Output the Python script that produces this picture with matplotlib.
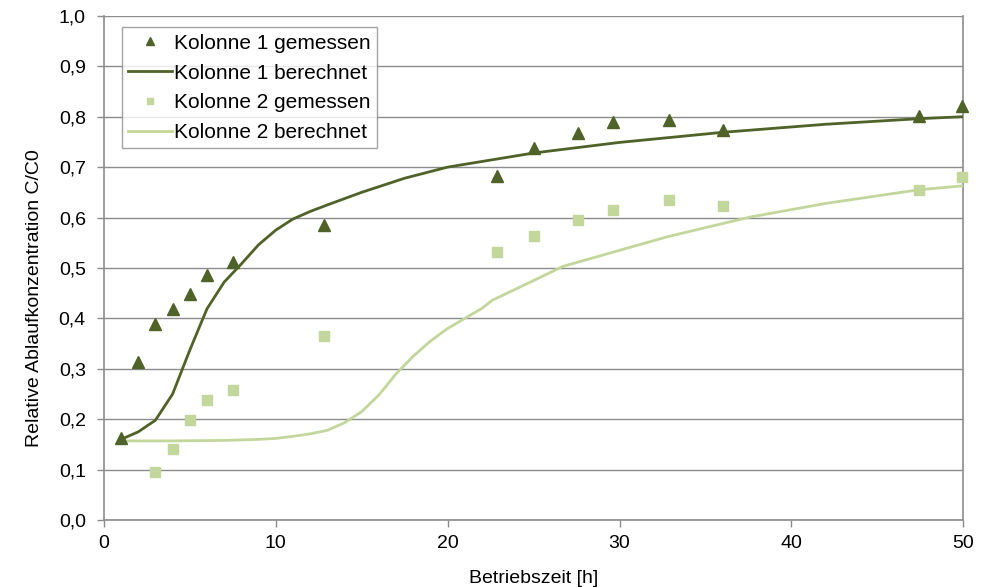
import matplotlib
matplotlib.use("Agg")
import matplotlib.pyplot as plt
import numpy as np

plt.rcParams['font.family'] = ['Liberation Sans', 'DejaVu Sans']

# measured data
t_meas1 = [1, 2, 3, 4, 5, 6, 7.5, 12.8, 22.9, 25, 27.6, 29.6, 32.9, 36, 47.4, 49.9]
c_meas1 = [0.163, 0.313, 0.389, 0.419, 0.448, 0.486, 0.512, 0.585, 0.683, 0.738, 0.768, 0.790, 0.794, 0.774, 0.802, 0.821]

t_meas2 = [3, 4, 5, 6, 7.5, 12.8, 22.9, 25, 27.6, 29.6, 32.9, 36, 47.4, 49.9]
c_meas2 = [0.095, 0.141, 0.198, 0.238, 0.258, 0.365, 0.532, 0.563, 0.595, 0.615, 0.635, 0.623, 0.655, 0.681]

# calculated curves
t_calc1 = [1, 2, 3, 4, 5, 6, 7, 8, 9, 10, 11, 12, 13, 15, 17.5, 20, 25, 30, 36, 42, 47.4, 50]
c_calc1 = [0.16, 0.175, 0.198, 0.25, 0.337, 0.419, 0.472, 0.508, 0.546, 0.575, 0.597, 0.612, 0.625, 0.650, 0.678, 0.700, 0.728, 0.749, 0.769, 0.785, 0.796, 0.800]

t_calc2 = [1, 4, 7, 9, 10, 11, 12, 13, 14, 15, 16, 17, 18, 19, 20, 22, 22.6, 25, 26.7, 30, 32.8, 35, 37.6, 42, 47.4, 50]
c_calc2 = [0.157, 0.157, 0.158, 0.160, 0.162, 0.166, 0.171, 0.178, 0.193, 0.215, 0.248, 0.29, 0.325, 0.355, 0.38, 0.42, 0.436, 0.475, 0.503, 0.535, 0.562, 0.580, 0.601, 0.628, 0.655, 0.663]

x_ticks = [0, 10, 20, 30, 40, 50]
y_ticks = [0.0, 0.1, 0.2, 0.3, 0.4, 0.5, 0.6, 0.7, 0.8, 0.9, 1.0]
y_ticklabels = ["0,0", "0,1", "0,2", "0,3", "0,4", "0,5", "0,6", "0,7", "0,8", "0,9", "1,0"]

dark = "#4F6228"
light = "#C3D69B"
gray = "#8C8C8C"

fig = plt.figure(figsize=(9.89, 5.87), dpi=100)
ax = fig.add_axes([0.105, 0.114, 0.869, 0.859])

ax.plot(t_meas1, c_meas1, linestyle='none', marker='^', markersize=8, color=dark,
        label="Kolonne 1 gemessen", zorder=4, clip_on=False)
ax.plot(t_calc1, c_calc1, color=dark, linewidth=2, label="Kolonne 1 berechnet", zorder=3)
ax.plot(t_meas2, c_meas2, linestyle='none', marker='s', markersize=6.5, color=light,
        label="Kolonne 2 gemessen", zorder=4, clip_on=False)
ax.plot(t_calc2, c_calc2, color=light, linewidth=2, label="Kolonne 2 berechnet", zorder=3)

ax.set_xlim(0, 50)
ax.set_ylim(0, 1.0)
ax.set_xticks(x_ticks)
ax.set_xticklabels([str(v) for v in x_ticks])
ax.set_yticks(y_ticks)
ax.set_yticklabels(y_ticklabels)
ax.grid(axis='y', color=gray, linewidth=1)
ax.set_axisbelow(True)
for s in ['left', 'bottom', 'right']:
    ax.spines[s].set_color(gray)
    ax.spines[s].set_linewidth(1.2)
ax.spines['top'].set_visible(False)
ax.tick_params(axis='both', colors=gray, labelcolor='black', labelsize=14, length=5, width=1)
ax.tick_params(axis='x', pad=6)
ax.tick_params(axis='y', pad=8)

ax.set_xlabel("Betriebszeit [h]", fontsize=14, labelpad=13)
ax.set_ylabel("Relative Ablaufkonzentration C/C0", fontsize=14)
ax.yaxis.set_label_coords(-0.071, 0.44)

leg = ax.legend(loc='upper left', bbox_to_anchor=(0.021, 0.977), fontsize=15, frameon=True,
                fancybox=False, edgecolor=gray, handlelength=2.1, handletextpad=0.1,
                borderpad=0.3, labelspacing=0.52, borderaxespad=0, markerscale=0.75)
leg.get_frame().set_linewidth(1)

fig.savefig("out.png", dpi=100)
